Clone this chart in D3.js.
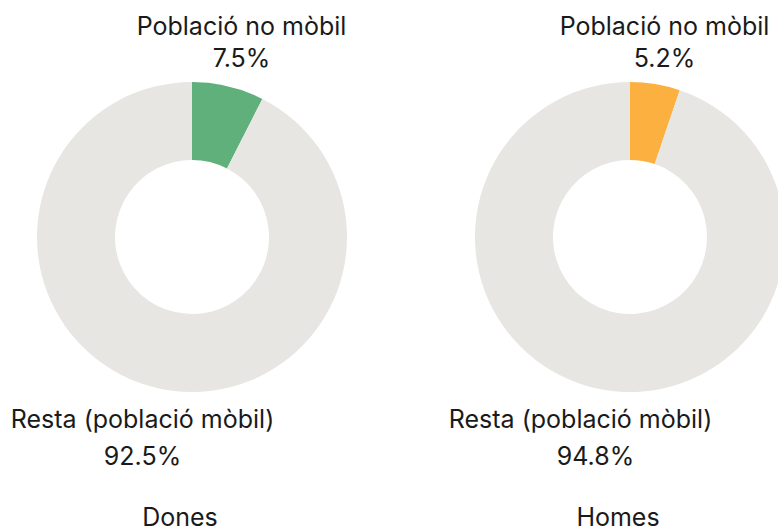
<!DOCTYPE html>
<html lang="ca">
<head>
  <meta charset="UTF-8" />
  <title>Població no mòbil per sexe</title>
  <script src="https://d3js.org/d3.v7.min.js"></script>
  <style>
    body { margin: 0; background: #fff; }
    svg { display: block; }
    text { font-family: Inter, "Noto Sans", sans-serif; font-size: 25px; fill: #1a1a1a; }
  </style>
</head>
<body>
  <svg id="chart" width="778" height="532"></svg>
  <script>
    // data
    const groups = ["Dones", "Homes"];
    const categories = ["Població no mòbil", "Resta (població mòbil)"];
    const values = {
      "Dones": [7.5, 92.5],
      "Homes": [5.2, 94.8]
    };
    const accent = { "Dones": "#5fb07b", "Homes": "#fbb040" };
    const restColor = "#e8e6e2";

    const width = 778, height = 532;
    const cy = 237, outerR = 155, innerR = 77;
    const svg = d3.select("#chart");

    const x = d3.scalePoint().domain(groups).range([192, 630]);

    const pie = d3.pie().sort(null).value(d => d.value);
    const arc = d3.arc().innerRadius(innerR).outerRadius(outerR);
    const labelArc = d3.arc().innerRadius(212).outerRadius(212);
    const fmt = v => v.toFixed(1) + "%";
    // the right-hand "Resta" name sits a bit left of its value in the original
    const nameNudge = { "Dones": 0, "Homes": -15 };

    groups.forEach(g => {
      const data = categories.map((c, i) => ({ cat: c, value: values[g][i] }));
      const slices = pie(data);
      const cx = x(g);
      const gEl = svg.append("g").attr("transform", `translate(${cx},${cy})`);

      gEl.selectAll("path")
        .data(slices)
        .enter()
        .append("path")
        .attr("d", arc)
        .attr("fill", (d, i) => i === 0 ? accent[g] : restColor);

      // slice labels, name + percentage; x follows the slice, rows are fixed
      slices.forEach((d, i) => {
        const [lx, ly] = labelArc.centroid(d);
        const top = ly < 0;
        const t = gEl.append("text").attr("text-anchor", "middle");
        t.append("tspan")
          .attr("x", lx + (top ? 0 : nameNudge[g])).attr("y", top ? -202 : 191)
          .text(d.data.cat);
        t.append("tspan")
          .attr("x", lx).attr("y", top ? -170 : 228)
          .text(fmt(d.data.value));
      });

      svg.append("text")
        .attr("x", cx - 12)
        .attr("y", 526)
        .attr("text-anchor", "middle")
        .text(g);
    });
  </script>
</body>
</html>
